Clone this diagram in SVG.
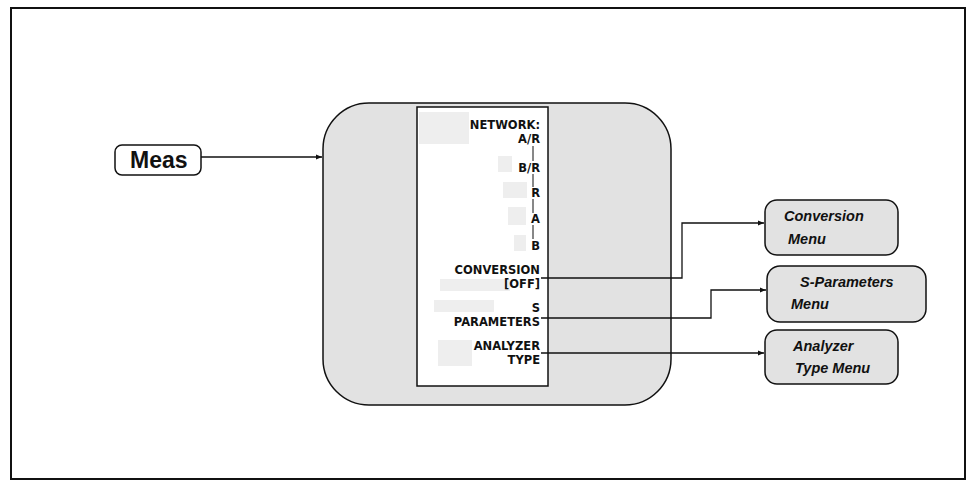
<svg xmlns="http://www.w3.org/2000/svg" width="967" height="481" viewBox="0 0 967 481">
<defs>
<style>
.frame{fill:none;stroke:#111;stroke-width:2}
.box{fill:#e2e2e2;stroke:#111;stroke-width:1.5}
.panel{fill:#fff;stroke:#111;stroke-width:1.5}
.patch{fill:#eeeeee;stroke:none}
.key{font-family:"DejaVu Sans","Liberation Sans",sans-serif;font-weight:bold;font-size:11.5px;fill:#111;text-anchor:end}
.menu{font-family:"Liberation Sans",Arial,sans-serif;font-weight:bold;font-style:italic;font-size:14.5px;fill:#111}
.meas{font-family:"Liberation Sans",Arial,sans-serif;font-weight:bold;font-size:23px;fill:#111}
.wire{fill:none;stroke:#111;stroke-width:1.3}
.tick{fill:none;stroke:#111;stroke-width:1}
</style>
<marker id="arr" viewBox="0 0 10 10" refX="10" refY="5" markerWidth="8" markerHeight="6" orient="auto" markerUnits="userSpaceOnUse">
<path d="M0,1 L10,5 L0,9 Z" fill="#111"/>
</marker>
</defs>
<rect class="frame" x="11" y="8" width="954" height="471"/>

<g id="meas">
<rect x="115" y="145" width="86" height="30" rx="7" fill="#fff" stroke="#111" stroke-width="1.5"/>
<text class="meas" x="130" y="168">Meas</text>
</g>

<g id="meas-menu">
<rect class="box" x="323" y="103" width="348" height="302" rx="46"/>
<rect class="panel" x="417" y="107" width="131" height="279"/>
<rect class="patch" x="419" y="112" width="50" height="32"/>
<rect class="patch" x="498" y="156" width="14" height="16"/>
<rect class="patch" x="503" y="182" width="24" height="16"/>
<rect class="patch" x="508" y="207" width="18" height="18"/>
<rect class="patch" x="514" y="235" width="12" height="16"/>
<rect class="patch" x="440" y="279" width="70" height="12"/>
<rect class="patch" x="434" y="300" width="60" height="12"/>
<rect class="patch" x="438" y="340" width="34" height="26"/>
<text class="key" x="540" y="129">NETWORK:</text>
<text class="key" x="540" y="143">A/R</text>
<text class="key" x="540" y="172">B/R</text>
<text class="key" x="540" y="197">R</text>
<text class="key" x="540" y="223">A</text>
<text class="key" x="540" y="250">B</text>
<text class="key" x="540" y="274">CONVERSION</text>
<text class="key" x="540" y="288">[OFF]</text>
<text class="key" x="540" y="312">S</text>
<text class="key" x="540" y="326">PARAMETERS</text>
<text class="key" x="540" y="350">ANALYZER</text>
<text class="key" x="540" y="364">TYPE</text>
<path class="tick" d="M533,146 V161 M533,174 V187 M533,199 V213 M533,225 V239"/>
</g>

<g id="conversion-menu">
<rect class="box" x="765" y="200" width="133" height="55" rx="12"/>
<text class="menu" x="784" y="221">Conversion</text>
<text class="menu" x="788" y="244">Menu</text>
</g>

<g id="s-parameters-menu">
<rect class="box" x="767" y="266" width="159" height="56" rx="13"/>
<text class="menu" x="800" y="287">S-Parameters</text>
<text class="menu" x="791" y="309">Menu</text>
</g>

<g id="analyzer-type-menu">
<rect class="box" x="765" y="330" width="133" height="54" rx="12"/>
<text class="menu" x="793" y="351">Analyzer</text>
<text class="menu" x="795" y="373">Type Menu</text>
</g>

<g id="connectors">
<path class="wire" d="M541,278 H682 V223 H764" marker-end="url(#arr)"/>
<path class="wire" d="M541,318 H711 V290 H766" marker-end="url(#arr)"/>
<path class="wire" d="M541,353 H764" marker-end="url(#arr)"/>
<path class="wire" d="M201,157 H322" marker-end="url(#arr)"/>
</g>
</svg>
